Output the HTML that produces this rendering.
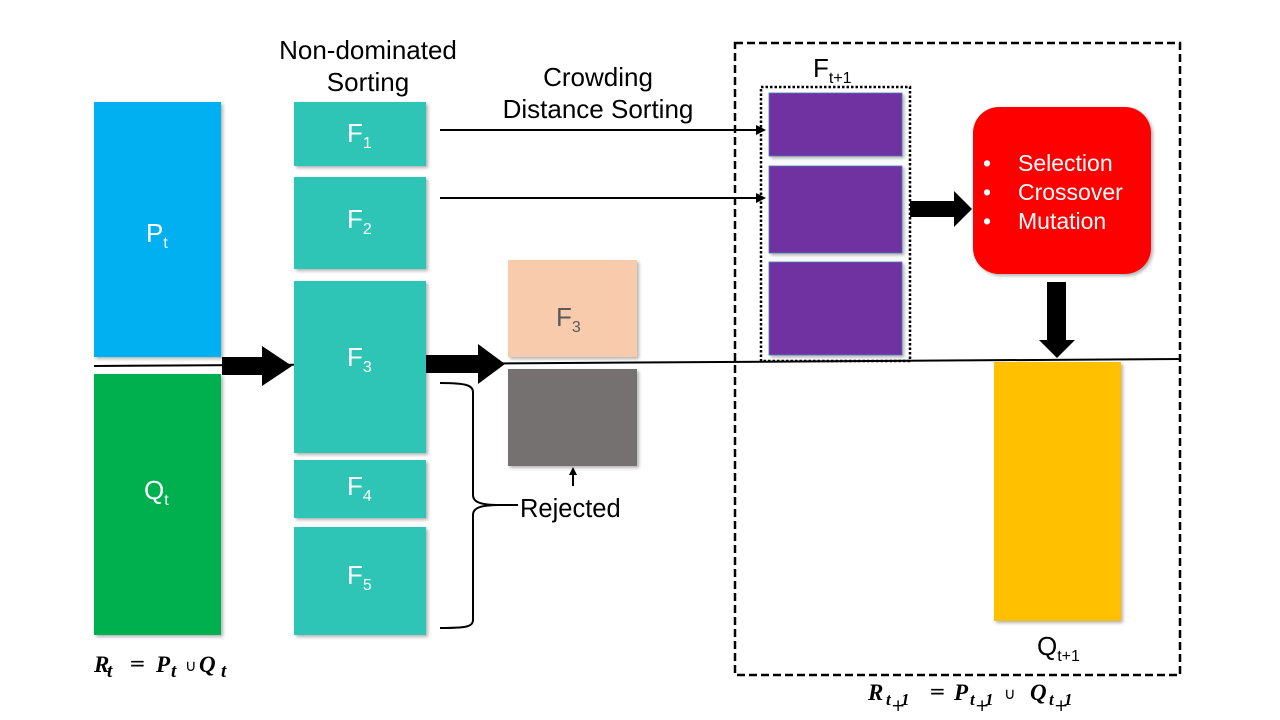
<!DOCTYPE html>
<html><head><meta charset="utf-8"><style>
html,body{margin:0;padding:0;background:#fff;}
svg{display:block;}
text{font-family:"Liberation Sans",sans-serif;}
.m{font-family:"Liberation Serif",serif;font-weight:bold;font-style:italic;}
.u{font-family:"DejaVu Sans",sans-serif;font-weight:normal;font-style:normal;}
</style></head><body>
<svg width="1280" height="720" viewBox="0 0 1280 720" xmlns="http://www.w3.org/2000/svg">
<defs>
<filter id="sh" x="-5%" y="-5%" width="115%" height="115%"><feDropShadow dx="2" dy="2" stdDeviation="1.5" flood-color="#000" flood-opacity="0.3"/></filter>
</defs>
<rect x="94" y="102" width="127" height="255" fill="#00b0f0" filter="url(#sh)"/>
<rect x="94" y="374" width="127" height="261" fill="#00b050" filter="url(#sh)"/>
<text x="146" y="242" font-size="26" fill="#fff">P<tspan font-size="16" dy="6">t</tspan></text>
<text x="144" y="499" font-size="26" fill="#fff">Q<tspan font-size="16" dy="6">t</tspan></text>
<line x1="94" y1="366" x2="1181" y2="359" stroke="#000" stroke-width="2"/>
<polygon points="222,357 262,357 262,346 292,366 262,386 262,375 222,375" fill="#000"/>
<polygon points="426,355 478,355 478,344 505,364 478,384 478,373 426,373" fill="#000"/>
<g fill="#2ec4b6" filter="url(#sh)">
<rect x="294" y="102" width="132" height="64"/>
<rect x="294" y="177" width="132" height="92"/>
<rect x="294" y="281" width="132" height="172"/>
<rect x="294" y="460" width="132" height="58"/>
<rect x="294" y="527" width="132" height="108"/>
</g>
<g font-size="26" fill="#fff">
<text x="347" y="142">F<tspan font-size="16" dy="6">1</tspan></text>
<text x="347" y="228">F<tspan font-size="16" dy="6">2</tspan></text>
<text x="347" y="366">F<tspan font-size="16" dy="6">3</tspan></text>
<text x="347" y="495">F<tspan font-size="16" dy="6">4</tspan></text>
<text x="347" y="584">F<tspan font-size="16" dy="6">5</tspan></text>
</g>
<text x="368" y="59" font-size="26" text-anchor="middle" fill="#000">Non-dominated</text>
<text x="368" y="91" font-size="26" text-anchor="middle" fill="#000">Sorting</text>
<text x="598" y="86" font-size="26" text-anchor="middle" fill="#000">Crowding</text>
<text x="598" y="118" font-size="26" text-anchor="middle" fill="#000">Distance Sorting</text>
<line x1="440" y1="130" x2="758" y2="130" stroke="#000" stroke-width="2"/>
<polygon points="756,125 766,130 756,135" fill="#000"/>
<line x1="440" y1="198" x2="758" y2="198" stroke="#000" stroke-width="2"/>
<polygon points="756,193 766,198 756,203" fill="#000"/>
<rect x="508" y="260" width="129" height="97" fill="#f8cbad" filter="url(#sh)"/>
<text x="556" y="326" font-size="26" fill="#595959">F<tspan font-size="16" dy="6">3</tspan></text>
<rect x="508" y="369" width="129" height="97" fill="#767171" filter="url(#sh)"/>
<line x1="573" y1="486" x2="573" y2="474" stroke="#000" stroke-width="2"/>
<polygon points="569,475 573,467 577,475" fill="#000"/>
<path d="M440,383 C465,383 473,385 473,392 L473,495 C473,502 480,505 500,505 C480,505 473,508 473,515 L473,620 C473,627 465,628 440,628" fill="none" stroke="#000" stroke-width="2"/>
<line x1="500" y1="505" x2="518" y2="505" stroke="#000" stroke-width="2"/>
<text x="520" y="517" font-size="25.5" fill="#000">Rejected</text>
<rect x="735" y="43" width="445" height="632" fill="none" stroke="#000" stroke-width="2.5" stroke-dasharray="8,4"/>
<rect x="761" y="87" width="149" height="274" fill="none" stroke="#000" stroke-width="2.5" stroke-dasharray="2.5,2"/>
<text x="813" y="77" font-size="26" fill="#000">F<tspan font-size="16" dy="6">t+1</tspan></text>
<g fill="#7030a0" stroke="#4a7ebb" stroke-width="0.8" filter="url(#sh)">
<rect x="769" y="93" width="133" height="63"/>
<rect x="769" y="166" width="133" height="87"/>
<rect x="769" y="262" width="133" height="93"/>
</g>
<polygon points="910,201 954,201 954,191 972,209 954,227 954,217 910,217" fill="#000"/>
<rect x="973" y="107" width="178" height="167" rx="26" fill="#ff0000" filter="url(#sh)"/>
<g font-size="23" fill="#fff">
<text x="983" y="171">•</text><text x="1018" y="171">Selection</text>
<text x="983" y="200">•</text><text x="1018" y="200">Crossover</text>
<text x="983" y="229">•</text><text x="1018" y="229">Mutation</text>
</g>
<polygon points="1047,282 1066,282 1066,340 1075,340 1057,358 1039,340 1047,340" fill="#000"/>
<rect x="994" y="362" width="127" height="259" fill="#ffc000" filter="url(#sh)"/>
<text x="1037" y="655" font-size="26" fill="#000">Q<tspan font-size="16" dy="6">t+1</tspan></text>
<!-- formulas -->
<g fill="#000">
<text x="94" y="672" font-size="23" class="m">R</text>
<text x="107" y="677" font-size="19" class="m">t</text>
<text x="129" y="670" font-size="20" class="u">=</text>
<text x="156" y="672" font-size="23" class="m">P</text>
<text x="171" y="677" font-size="19" class="m">t</text>
<text x="185" y="671" font-size="16" class="u">∪</text>
<text x="199" y="672" font-size="23" class="m">Q</text>
<text x="221" y="677" font-size="19" class="m">t</text>

<text x="868" y="700" font-size="23" class="m">R</text>
<text x="886" y="705" font-size="17" class="m">t</text>
<text x="891" y="711" font-size="17" class="u">+</text>
<text x="901" y="705" font-size="17" class="m">1</text>
<text x="929" y="698" font-size="20" class="u">=</text>
<text x="954" y="700" font-size="23" class="m">P</text>
<text x="970" y="705" font-size="17" class="m">t</text>
<text x="975" y="711" font-size="17" class="u">+</text>
<text x="985" y="705" font-size="17" class="m">1</text>
<text x="1004" y="699" font-size="16" class="u">∪</text>
<text x="1030" y="700" font-size="23" class="m">Q</text>
<text x="1049" y="705" font-size="17" class="m">t</text>
<text x="1054" y="711" font-size="17" class="u">+</text>
<text x="1064" y="705" font-size="17" class="m">1</text>
</g>
</svg>
</body></html>
